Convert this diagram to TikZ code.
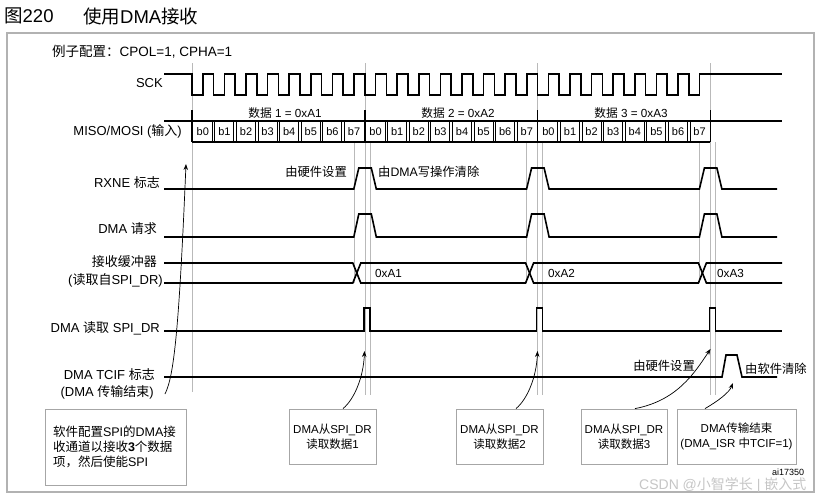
\documentclass[tikz,border=0pt]{standalone}
\usepackage{fontspec}
\setmainfont{Liberation Sans}
\newfontfamily\cjk{Noto Sans CJK SC}
\newcommand\zh[1]{{\cjk #1}}
\usetikzlibrary{arrows.meta}
\tikzset{
  sig/.style={line width=1.6pt, line join=miter},
  gridln/.style={gray!55, line width=0.6pt},
  lbl/.style={anchor=east, inner sep=0pt, font=\fontsize{13}{15}\selectfont},
  bit/.style={inner sep=0pt, font=\fontsize{11}{13}\selectfont},
  small/.style={inner sep=0pt, font=\fontsize{11.7}{13}\selectfont},
  note/.style={inner sep=0pt, font=\fontsize{12.3}{14}\selectfont},
  callout/.style={draw=gray!70, line width=0.8pt, font=\fontsize{11.5}{15}\selectfont, inner ysep=4pt},
  ann/.style={-{Stealth[length=6pt,width=4.5pt]}, line width=0.7pt},
}
\begin{document}
\begin{tikzpicture}[x=1pt,y=-1pt]
\useasboundingbox (0,0) rectangle (828,498);
\fill[white] (0,0) rectangle (828,498);

% title and frame
\node[anchor=west, inner sep=0pt, font=\fontsize{18.5}{20}\selectfont] (ttl1) at (4,16) {\zh{图}220};
\node[anchor=west, inner sep=0pt, font=\fontsize{18.5}{20}\selectfont] (ttl2) at (83,16) {\zh{使用}DMA\zh{接收}};
\draw[gray!60, line width=1.5pt] (7,33) rectangle (814,492);
\node[anchor=west, inner sep=0pt, font=\fontsize{13.5}{15}\selectfont] (cfg) at (52,52) {\zh{例子配置：}CPOL=1, CPHA=1};

% grey guide lines
\draw[gridln] (192,63) -- (192,392);
\foreach \B in {364.8,537.6,710.4}{
  \draw[gridln] (\B,63) -- (\B,395);
  \draw[gridln] ({\B-11},142) -- ({\B-11},283);
  \draw[gridln] ({\B+5},142) -- ({\B+5},395);
}

% signal labels
\node[lbl] (lsck) at (163,83) {SCK};
\node[lbl] (lmiso) at (182,131) {MISO/MOSI (\zh{输入})};
\node[lbl] (lrxne) at (160,183) {RXNE \zh{标志}};
\node[lbl] (lreq) at (157,229) {DMA \zh{请求}};
\node[lbl] (lbuf1) at (157,262) {\zh{接收缓冲器}};
\node[lbl] (lbuf2) at (163,280) {(\zh{读取自}SPI\_DR)};
\node[lbl] (lrd) at (160,328) {DMA \zh{读取} SPI\_DR};
\node[lbl] (ltc1) at (155,375) {DMA TCIF \zh{标志}};
\node[lbl] (ltc2) at (154,392) {(DMA \zh{传输结束})};

% SCK
\draw[sig] (164,74) -- (192,74)
  \foreach \i in {0,...,23}{ -- ({192+\i*21.6},95) -- ({192+\i*21.6+10.8},95) -- ({192+\i*21.6+10.8},74) -- ({192+(\i+1)*21.6},74) }
  -- (782,74);

% MISO/MOSI
\draw[sig] (164,121) -- (782,121);
\draw[sig] (192,142) -- (710.4,142);
\foreach \d in {0,1,2,3} \draw[sig] ({192+\d*172.8},110) -- ({192+\d*172.8},142);
\foreach \i in {1,...,23}{
  \pgfmathtruncatemacro\m{mod(\i,8)}
  \ifnum\m>0
    \draw[line width=1.1pt] ({192+\i*21.6-1.3},121) -- ({192+\i*21.6-1.3},142);
    \draw[line width=1.1pt] ({192+\i*21.6+1.3},121) -- ({192+\i*21.6+1.3},142);
  \fi
}
\foreach \i in {0,...,23}{
  \pgfmathtruncatemacro\b{mod(\i,8)}
  \node[bit] (b\i) at ({192+\i*21.6+10.8},131.5) {b\b};
}
\node[small] (d1) at (285,113) {\zh{数据} 1 = 0xA1};
\node[small] (d2) at (458,113) {\zh{数据} 2 = 0xA2};
\node[small] (d3) at (631,113) {\zh{数据} 3 = 0xA3};

% RXNE
\draw[sig] (164,189) \foreach \B in {364.8,537.6,710.4}{ -- ({\B-11},189) -- ({\B-6},168) -- ({\B+6.5},168) -- ({\B+11.5},189) } -- (777,189);
% DMA request
\draw[sig] (164,237) \foreach \B in {364.8,537.6,710.4}{ -- ({\B-11},237) -- ({\B-6},214) -- ({\B+6.5},214) -- ({\B+11.5},237) } -- (777,237);
% receive buffer
\draw[sig] (164,263) -- (352.8,263) -- (360.8,283) -- (525.6,283) -- (533.6,263) -- (698.4,263) -- (706.4,283) -- (782,283);
\draw[sig] (164,283) -- (352.8,283) -- (360.8,263) -- (525.6,263) -- (533.6,283) -- (698.4,283) -- (706.4,263) -- (782,263);
\node[small, anchor=west] (v1) at (375,273) {0xA1};
\node[small, anchor=west] (v2) at (548,273) {0xA2};
\node[small, anchor=west] (v3) at (717,273) {0xA3};
% DMA read
\draw[sig] (164,331) \foreach \B in {364.8,537.6,710.4}{ -- ({\B-1},331) -- ({\B-1},308) -- ({\B+5},308) -- ({\B+5},331) } -- (782,331);
% TCIF
\draw[sig] (164,377) -- (722,377) -- (726,355) -- (737,355) -- (742,377) -- (777,377);

% annotations
\node[note, anchor=east] (hw1) at (347,172) {\zh{由硬件设置}};
\node[note, anchor=west] (clr1) at (378,172) {\zh{由}DMA\zh{写操作清除}};
\node[note, anchor=east] (hw2) at (695,366) {\zh{由硬件设置}};
\node[note, anchor=west] (clr2) at (745,369) {\zh{由软件清除}};

% callout boxes
\node[callout, font=\fontsize{12.5}{15}\selectfont, minimum width=141pt, minimum height=76pt, text width=125pt, inner xsep=8pt, align=left] (c1) at (115.5,447) {\zh{软件配置}SPI\zh{的}DMA\zh{接}\\\zh{收通道以接收}\textbf{3}\zh{个数据}\\\zh{项，然后使能}SPI};
\node[callout, minimum width=87pt, minimum height=55pt, align=center] (c2) at (332.5,436.5) {DMA\zh{从}SPI\_DR\\\zh{读取数据}1};
\node[callout, minimum width=87pt, minimum height=55pt, align=center] (c3) at (499.5,436.5) {DMA\zh{从}SPI\_DR\\\zh{读取数据}2};
\node[callout, minimum width=86pt, minimum height=55pt, align=center] (c4) at (624,436.5) {DMA\zh{从}SPI\_DR\\\zh{读取数据}3};
\node[callout, minimum width=117pt, minimum height=55pt, align=center] (c5) at (736.5,436.5) {DMA\zh{传输结束}\\(DMA\_ISR \zh{中}TCIF=1)};

% arrows
\coordinate (s0) at (165,394);
\coordinate (t0) at (186,164);
\coordinate (t1) at (364.5,351);
\coordinate (t2) at (537.5,351);
\coordinate (t3) at (710.5,349);
\coordinate (t4) at (733,383);
\draw[ann] (s0) .. controls (174,376) and (179,330) .. (t0);
\draw[ann] ([xshift=10.5pt]c2.north) .. controls +(12,-10) and +(-1,25) .. (t1);
\draw[ann] ([xshift=16.5pt]c3.north) .. controls +(12,-10) and +(-1,25) .. (t2);
\draw[ann] ([xshift=11pt]c4.north) .. controls +(42,-8) and +(-16,24) .. (t3);
\draw[ann] ([xshift=-31.5pt]c5.north) .. controls +(12,-7) and +(-4,10) .. (t4);

% footer
\node[anchor=west, inner sep=0pt, font=\fontsize{9}{10}\selectfont] (ai) at (772,472) {ai17350};
\node[anchor=west, inner sep=0pt, text=gray!45, font=\fontsize{14}{16}\selectfont] (wm) at (639,485) {CSDN @\zh{小智学长} | \zh{嵌入式}};
\end{tikzpicture}
\end{document}
